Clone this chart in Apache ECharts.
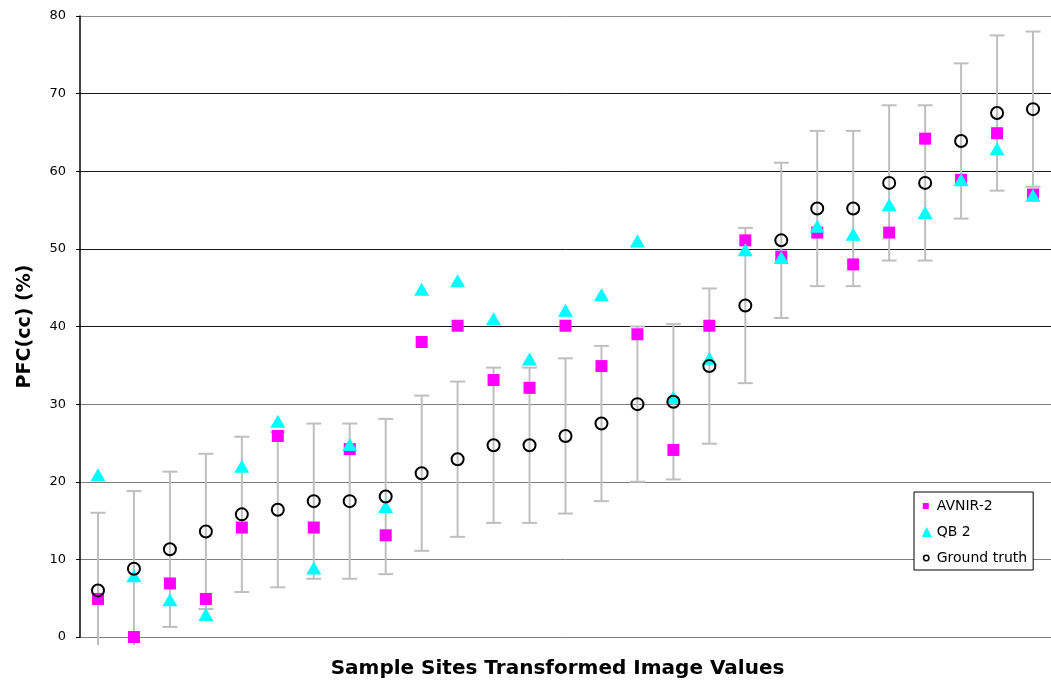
<!DOCTYPE html>
<html>
<head>
<meta charset="utf-8">
<title>PFC(cc) by sample site</title>
<script src="https://cdn.jsdelivr.net/npm/echarts@6/dist/echarts.min.js"></script>
<style>
  html, body { margin: 0; padding: 0; background: #ffffff; }
  #chart { width: 1051px; height: 684px; }
</style>
</head>
<body>
<div id="chart"></div>
<script>
// Sample sites, ordered by ground-truth PFC(cc)
const sites = ['1', '2', '3', '4', '5', '6', '7', '8', '9', '10', '11', '12', '13', '14',
               '15', '16', '17', '18', '19', '20', '21', '22', '23', '24', '25', '26', '27'];

// Field-measured PFC(cc) (%)
const groundTruth = [6.0, 8.8, 11.3, 13.6, 15.8, 16.4, 17.5, 17.5, 18.1, 21.1, 22.9, 24.7, 24.7, 25.9,
                     27.5, 30.0, 30.3, 34.9, 42.7, 51.1, 55.2, 55.2, 58.5, 58.5, 63.9, 67.5, 68.0];

// Values estimated from AVNIR-2 imagery (%)
const avnir2 = [4.9, 0.0, 6.9, 4.9, 14.1, 25.9, 14.1, 24.2, 13.1, 38.0, 40.1, 33.1, 32.1, 40.1,
                34.9, 39.0, 24.1, 40.1, 51.1, 49.0, 52.1, 48.0, 52.1, 64.2, 58.9, 64.9, 57.0];

// Values estimated from QuickBird-2 imagery (%)
const qb2 = [20.9, 7.9, 4.8, 2.9, 22.0, 27.8, 8.9, 24.8, 16.8, 44.8, 45.9, 41.0, 35.8, 42.1,
             44.1, 51.0, 30.9, 35.9, 49.9, 48.9, 52.9, 51.9, 55.7, 54.7, 58.9, 62.9, 56.9];

// Error bars: +/- 10 PFC points around the ground truth
const errorHalfRange = 10;

// Value axis range and tick step
const yMin = 0;
const yMax = 80;
const yStep = 10;

const seriesNames = ['AVNIR-2', 'QB 2', 'Ground truth'];

const chart = echarts.init(document.getElementById('chart'), null, { renderer: 'canvas' });

const barStyle = { stroke: '#bfbfbf', lineWidth: 2 };
const capHalf = 7.5;

function renderErrorBar(params, api) {
  const idx = api.value(0);
  const centre = api.value(1);
  const top = api.coord([idx, centre + errorHalfRange]);
  const bottom = api.coord([idx, centre - errorHalfRange]);
  const cs = params.coordSys;
  const floorY = cs.y + cs.height + 8;
  const x = top[0];
  let yLow = bottom[1];
  let lowCap = true;
  if (yLow > floorY) { yLow = floorY; lowCap = false; }
  const children = [
    { type: 'line', shape: { x1: x, y1: top[1], x2: x, y2: yLow }, style: barStyle },
    { type: 'line', shape: { x1: x - capHalf, y1: top[1], x2: x + capHalf, y2: top[1] }, style: barStyle }
  ];
  if (lowCap) {
    children.push({ type: 'line', shape: { x1: x - capHalf, y1: yLow, x2: x + capHalf, y2: yLow }, style: barStyle });
  }
  return { type: 'group', children: children };
}

const option = {
  backgroundColor: '#ffffff',
  animation: false,
  grid: { left: 80, right: -10, top: 16, bottom: 45, containLabel: false },
  xAxis: {
    type: 'category',
    data: sites,
    boundaryGap: true,
    axisLine: { show: false },
    axisTick: { show: false },
    axisLabel: { show: false },
    splitLine: { show: false },
    name: 'Sample Sites Transformed Image Values',
    nameLocation: 'middle',
    nameGap: 22,
    nameTextStyle: {
      fontFamily: 'DejaVu Sans', fontWeight: 'bold', fontSize: 20, color: '#000',
      padding: [0, 16, 0, 0]
    }
  },
  yAxis: {
    type: 'value',
    min: yMin,
    max: yMax,
    interval: yStep,
    axisLine: { show: true, lineStyle: { color: '#000', width: 1.5 } },
    axisTick: { show: true, inside: false, length: 4, lineStyle: { color: '#000', width: 1 } },
    axisLabel: { margin: 14, fontFamily: 'DejaVu Sans', fontSize: 13, color: '#000' },
    splitLine: {
      show: true,
      lineStyle: {
        width: 1,
        color: ['#7f7f7f', '#7f7f7f', '#7f7f7f', '#7f7f7f', '#1a1a1a', '#1a1a1a', '#1a1a1a', '#1a1a1a', '#8c8c8c']
      }
    },
    name: 'PFC(cc) (%)',
    nameLocation: 'middle',
    nameGap: 45,
    nameTextStyle: { fontFamily: 'DejaVu Sans', fontWeight: 'bold', fontSize: 19, color: '#000' }
  },
  legend: {
    orient: 'vertical',
    left: 914,
    top: 492,
    padding: [7, 6, 5, 7],
    itemGap: 12,
    itemWidth: 10,
    itemHeight: 10,
    backgroundColor: '#ffffff',
    borderColor: '#000',
    borderWidth: 1,
    textStyle: { fontFamily: 'DejaVu Sans', fontSize: 14, color: '#000' },
    data: [
      { name: seriesNames[0], icon: 'path://M0,0M10,10M1,2H7V8H1Z' },
      { name: seriesNames[1], icon: 'triangle' },
      {
        name: seriesNames[2],
        icon: 'path://M0,0M10,10M4.5,2.3A2.7,2.7,0,1,1,4.5,7.7A2.7,2.7,0,1,1,4.5,2.3Z',
        itemStyle: { color: 'transparent', borderColor: '#000', borderWidth: 1.5 }
      }
    ]
  },
  series: [
    {
      type: 'custom',
      name: 'error',
      clip: false,
      z: 1,
      renderItem: renderErrorBar,
      encode: { x: 0, y: 1 },
      data: groundTruth.map((v, i) => [i, v])
    },
    {
      type: 'scatter',
      name: seriesNames[0],
      clip: false,
      z: 2,
      symbol: 'rect',
      symbolSize: 12,
      itemStyle: { color: '#ff00ff', opacity: 1 },
      data: avnir2
    },
    {
      type: 'scatter',
      name: seriesNames[1],
      clip: false,
      z: 3,
      symbol: 'triangle',
      symbolSize: [15, 13],
      itemStyle: { color: '#00ffff', opacity: 1 },
      data: qb2
    },
    {
      type: 'scatter',
      name: seriesNames[2],
      clip: false,
      z: 4,
      symbol: 'circle',
      symbolSize: 12,
      itemStyle: { color: 'transparent', borderColor: '#000', borderWidth: 2, opacity: 1 },
      data: groundTruth
    }
  ]
};

chart.setOption(option);
</script>
</body>
</html>
